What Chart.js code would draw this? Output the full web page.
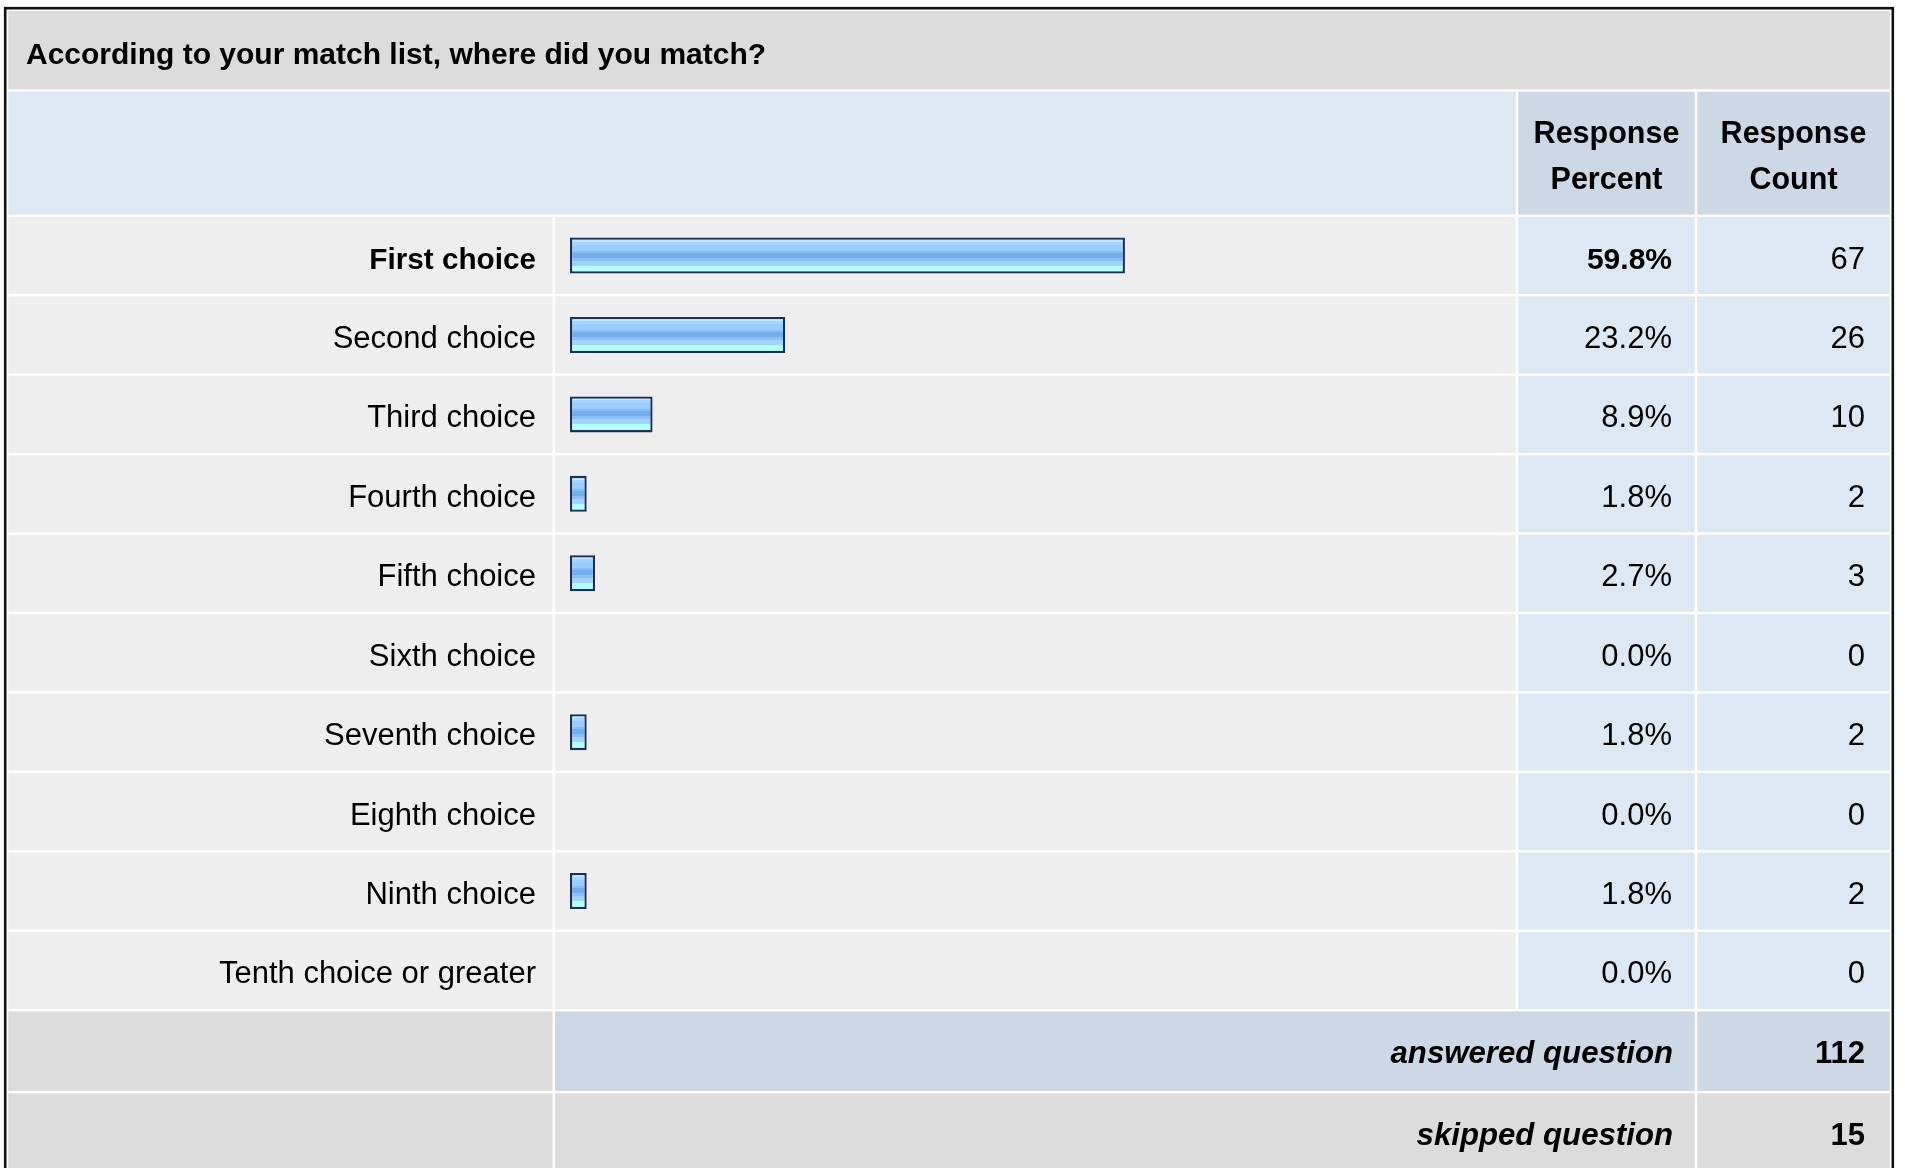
<!DOCTYPE html>
<html>
<head>
<meta charset="utf-8">
<title>Where did you match?</title>
<script src="https://cdn.jsdelivr.net/npm/chart.js@4/dist/chart.umd.min.js"></script>
<style>
  html, body { margin: 0; padding: 0; background: #ffffff; }
  .chart__box { position: relative; width: 1905px; height: 1168px; }
</style>
</head>
<body>
<div class="chart__box"><canvas id="match__chart"></canvas></div>
<script>
// Survey data
const questionTitle = 'According to your match list, where did you match?';
const choices = [
  'First choice', 'Second choice', 'Third choice', 'Fourth choice', 'Fifth choice',
  'Sixth choice', 'Seventh choice', 'Eighth choice', 'Ninth choice', 'Tenth choice or greater'
];
const responsePercent = [59.8, 23.2, 8.9, 1.8, 2.7, 0.0, 1.8, 0.0, 1.8, 0.0];
const responseCount = [67, 26, 10, 2, 3, 0, 2, 0, 2, 0];
const headerLabels = [['Response', 'Percent'], ['Response', 'Count']];
const summaryLabels = ['answered question', 'skipped question'];
const summaryCounts = [112, 15];

// Table geometry (separator lines between cells)
const colEdges = [7, 553.8, 1517, 1696, 1891];
const titleRow = [9.8, 90.5];
const headerRow = [90.5, 215.8];
const GAP = 1.2;
const FONT = "'Liberation Sans', Arial, sans-serif";

function fillCell(c, x0, x1, y0, y1, color) {
  c.fillStyle = color;
  c.fillRect(x0 + GAP, y0 + GAP, x1 - x0 - 2 * GAP, y1 - y0 - 2 * GAP);
}

function drawText(c, text, x, y, font, align) {
  c.font = font;
  c.textAlign = align;
  c.textBaseline = 'alphabetic';
  c.fillStyle = '#000000';
  c.fillText(text, x, y);
}

// Vertical gradient for each bar, centred on its row
function barGradient(context) {
  const chart = context.chart;
  const area = chart.chartArea;
  if (!area || context.dataIndex === undefined) {
    return '#99ccff';
  }
  const slot = (area.bottom - area.top) / choices.length;
  const yc = area.top + (context.dataIndex + 0.5) * slot;
  if (!isFinite(yc)) {
    return '#99ccff';
  }
  const top = yc - 18;
  const g = chart.ctx.createLinearGradient(0, top, 0, top + 36);
  const stops = [
    [0.0, '#c8e4ff'], [0.111, '#c8e4ff'],
    [0.111, '#a8d4ff'], [0.194, '#a8d4ff'],
    [0.194, '#99ccff'], [0.361, '#99ccff'],
    [0.361, '#88bdf7'], [0.417, '#88bdf7'],
    [0.417, '#74acf0'], [0.556, '#74acf0'],
    [0.556, '#88c0f8'], [0.639, '#88c0f8'],
    [0.639, '#a2d2ff'], [0.778, '#a2d2ff'],
    [0.778, '#b4ffff'], [1.0, '#b4ffff']
  ];
  stops.forEach(s => g.addColorStop(s[0], s[1]));
  return g;
}

// Plugin that paints the survey table around the bars
const surveyTable = {
  id: 'surveyTable',
  beforeDraw(chart) {
    const c = chart.ctx;
    const yScale = chart.scales.y;
    const pitch = yScale.getPixelForValue(1) - yScale.getPixelForValue(0);
    const slotTop = i => yScale.getPixelForValue(0) - pitch / 2 + i * pitch;
    const [e0, e1, e2, e3, e4] = colEdges;

    c.save();
    c.fillStyle = '#ffffff';
    c.fillRect(0, 0, chart.width, chart.height);

    // title + header
    fillCell(c, e0, e4, titleRow[0], titleRow[1], '#dcdcdc');
    fillCell(c, e0, e2, headerRow[0], headerRow[1], '#dde8f5');
    fillCell(c, e2, e3, headerRow[0], headerRow[1], '#ccd8e6');
    fillCell(c, e3, e4, headerRow[0], headerRow[1], '#ccd8e6');

    // answer rows
    choices.forEach((label, i) => {
      const t = slotTop(i), b = t + pitch;
      fillCell(c, e0, e1, t, b, '#eeeeee');
      fillCell(c, e1, e2, t, b, '#eeeeee');
      fillCell(c, e2, e3, t, b, '#dde8f5');
      fillCell(c, e3, e4, t, b, '#dde8f5');
    });

    // summary rows (the answered row is a little taller)
    const n = choices.length;
    const a0 = slotTop(n), a1 = a0 + pitch + 2.5, s1 = a1 + pitch + 2.5;
    fillCell(c, e0, e1, a0, a1, '#dcdcdc');
    fillCell(c, e1, e3, a0, a1, '#ccd8e6');
    fillCell(c, e3, e4, a0, a1, '#ccd8e6');
    fillCell(c, e0, e1, a1, s1, '#dcdcdc');
    fillCell(c, e1, e3, a1, s1, '#dcdcdc');
    fillCell(c, e3, e4, a1, s1, '#dcdcdc');

    // outer frame
    c.strokeStyle = '#111111';
    c.lineWidth = 2.6;
    c.strokeRect(5.2, 8.2, 1887.6, chart.height);
    c.restore();
  },
  afterDraw(chart) {
    const c = chart.ctx;
    const yScale = chart.scales.y;
    const pitch = yScale.getPixelForValue(1) - yScale.getPixelForValue(0);
    const [e0, e1, e2, e3, e4] = colEdges;

    c.save();
    drawText(c, questionTitle, 26, 64, 'bold 30px ' + FONT, 'left');

    headerLabels.forEach((lines, k) => {
      const cx = k === 0 ? (e2 + e3) / 2 : (e3 + e4) / 2;
      drawText(c, lines[0], cx, 143, 'bold 30.5px ' + FONT, 'center');
      drawText(c, lines[1], cx, 189, 'bold 30.5px ' + FONT, 'center');
    });

    choices.forEach((label, i) => {
      const yc = yScale.getPixelForValue(i) + 13;
      const labelFont = i === 0 ? 'bold 29.7px ' : '31px ';
      const pctFont = i === 0 ? 'bold 30px ' : '31px ';
      drawText(c, label, 536, yc, labelFont + FONT, 'right');
      drawText(c, responsePercent[i].toFixed(1) + '%', 1672, yc, pctFont + FONT, 'right');
      drawText(c, String(responseCount[i]), 1865, yc, '31px ' + FONT, 'right');
    });

    const n = choices.length;
    const summaryY = [
      yScale.getPixelForValue(n) + 1.25 + 12,
      yScale.getPixelForValue(n + 1) + 3.75 + 12
    ];
    summaryLabels.forEach((label, k) => {
      drawText(c, label, 1673, summaryY[k], 'italic bold 31.2px ' + FONT, 'right');
      drawText(c, String(summaryCounts[k]), 1865, summaryY[k], 'bold 31px ' + FONT, 'right');
    });
    c.restore();
  }
};

const ctx = document.getElementById('match__chart').getContext('2d');
const matchChart = new Chart(ctx, {
  type: 'bar',
  data: {
    labels: choices,
    datasets: [{
      label: 'Response Percent',
      data: responsePercent,
      backgroundColor: barGradient,
      borderColor: '#17315a',
      borderWidth: 2.3,
      borderSkipped: false,
      inflateAmount: 0,
      barThickness: 36,
    }],
  },
  options: {
    indexAxis: 'y',
    responsive: true,
    maintainAspectRatio: false,
    animation: false,
    events: [],
    layout: {
      padding: { left: 570, right: 407, top: 215.8, bottom: 157.8 },
    },
    scales: {
      x: { type: 'linear', min: 0, max: 100, display: false },
      y: { type: 'category', display: false },
    },
    plugins: {
      legend: { display: false },
      tooltip: { enabled: false },
    },
  },
  plugins: [surveyTable],
});
</script>
</body>
</html>
